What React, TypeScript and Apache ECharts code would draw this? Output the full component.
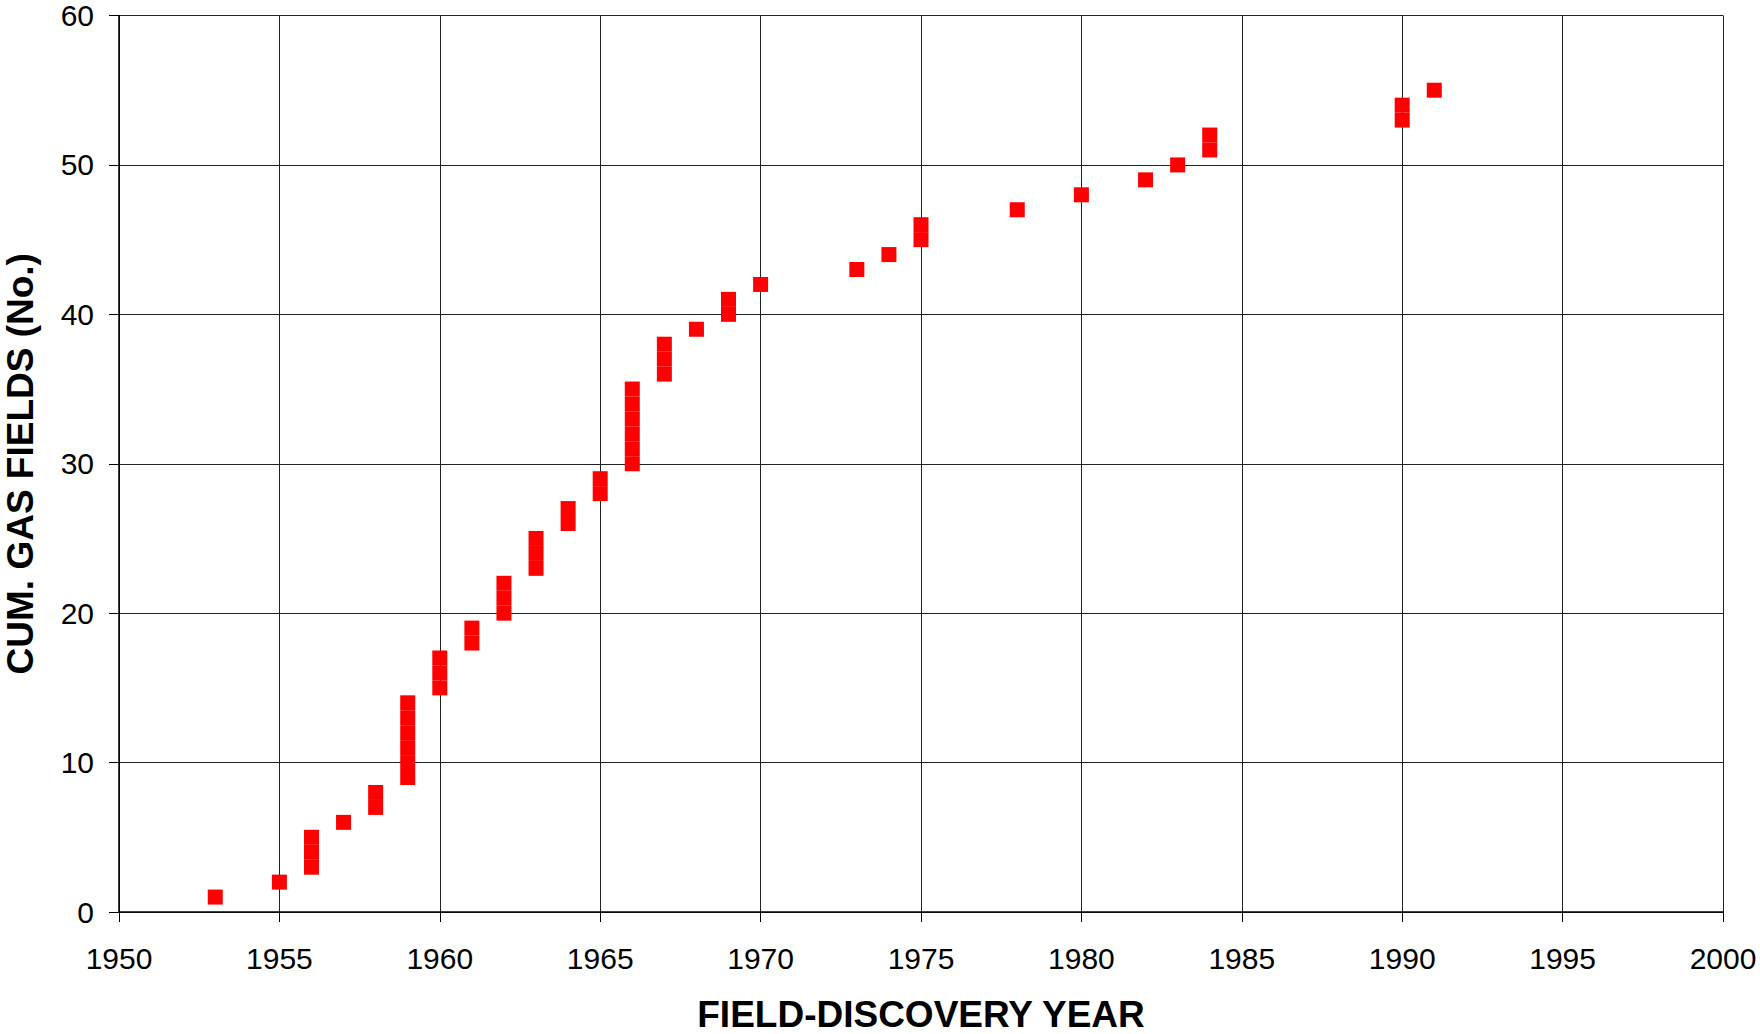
import React, { useEffect, useRef } from "react";
import * as echarts from "echarts";

// Discovery years and number of gas fields discovered in each year
const discoveryYears = [1953, 1955, 1956, 1957, 1958, 1959, 1960, 1961, 1962, 1963, 1964, 1965, 1966, 1967, 1968, 1969, 1970, 1973, 1974, 1975, 1978, 1980, 1982, 1983, 1984, 1990, 1991];
const fieldsPerYear = [1, 1, 3, 1, 2, 6, 3, 2, 3, 3, 2, 2, 6, 3, 1, 2, 1, 1, 1, 2, 1, 1, 1, 1, 2, 2, 1];

const xTicks = { min: 1950, max: 2000, interval: 5 };
const yTicks = { min: 0, max: 60, interval: 10 };

const xTitle = "FIELD-DISCOVERY YEAR";
const yTitle = "CUM. GAS FIELDS (No.)";

function buildPoints(): [number, number][] {
  const pts: [number, number][] = [];
  let cum = 0;
  discoveryYears.forEach((y, i) => {
    for (let k = 0; k < fieldsPerYear[i]; k++) {
      cum += 1;
      pts.push([y, cum]);
    }
  });
  return pts;
}

export default function App() {
  const ref = useRef<HTMLDivElement>(null);
  useEffect(() => {
    document.body.style.margin = "0";
    if (!ref.current) return;
    const chart = echarts.init(ref.current, undefined, { renderer: "svg" });
    const font = "'Liberation Sans', Arial, Helvetica, sans-serif";
    chart.setOption({
      animation: false,
      backgroundColor: "#ffffff",
      grid: { left: 119, right: 37, top: 15.5, bottom: 122, containLabel: false, outerBoundsMode: "none" },
      xAxis: {
        type: "value",
        min: xTicks.min,
        max: xTicks.max,
        interval: xTicks.interval,
        name: xTitle,
        nameLocation: "middle",
        nameGap: 84,
        nameTextStyle: { fontFamily: font, fontSize: 37, fontWeight: "bold", color: "#000", lineHeight: 37 },
        axisLine: { show: true, lineStyle: { color: "#000", width: 1.5 } },
        axisTick: { show: true, length: 10, inside: false, lineStyle: { color: "#000", width: 1 } },
        axisLabel: { fontFamily: font, fontSize: 30, color: "#000", margin: 31, formatter: (v: number) => String(v) },
        splitLine: { show: true, lineStyle: { color: "#222", width: 1 } },
      },
      yAxis: {
        type: "value",
        min: yTicks.min,
        max: yTicks.max,
        interval: yTicks.interval,
        name: yTitle,
        nameLocation: "middle",
        nameGap: 80,
        nameTextStyle: { fontFamily: font, fontSize: 37, fontWeight: "bold", color: "#000", lineHeight: 37 },
        axisLine: { show: true, lineStyle: { color: "#000", width: 1.5 } },
        axisTick: { show: true, length: 10, inside: false, lineStyle: { color: "#000", width: 1 } },
        axisLabel: { fontFamily: font, fontSize: 30, color: "#000", margin: 25 },
        splitLine: { show: true, lineStyle: { color: "#222", width: 1 } },
      },
      series: [
        {
          type: "scatter",
          data: buildPoints(),
          symbol: "rect",
          symbolSize: 15,
          itemStyle: { color: "#ff0000", opacity: 1 },
          emphasis: { disabled: true },
        },
      ],
    });
    return () => chart.dispose();
  }, []);
  return <div ref={ref} style={{ width: 1760, height: 1034 }} />;
}
